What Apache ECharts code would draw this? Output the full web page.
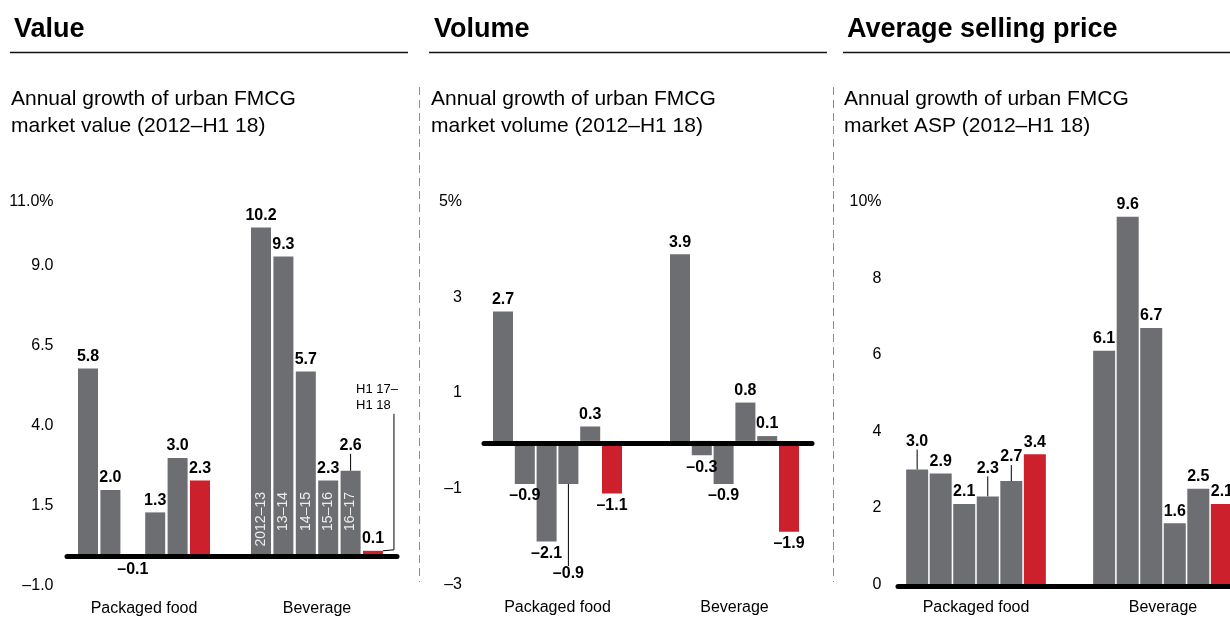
<!DOCTYPE html>
<html>
<head>
<meta charset="utf-8">
<title>Urban FMCG growth</title>
<script src="https://cdn.jsdelivr.net/npm/echarts@6/dist/echarts.min.js"></script>
<style>
  html, body { margin: 0; padding: 0; background: #fff; }
  #chart { width: 1230px; height: 618px; }
</style>
</head>
<body>
<div id="chart"></div>
<script>
const categories = ['Packaged food', 'Beverage'];
const periods = ['2012–13', '13–14', '14–15', '15–16', '16–17', 'H1 17–H1 18'];

// annual growth, % (one value per period)
const valueFood = [5.8, 2.0, -0.1, 1.3, 3.0, 2.3];
const valueBev = [10.2, 9.3, 5.7, 2.3, 2.6, 0.1];
const volumeFood = [2.7, -0.9, -2.1, -0.9, 0.3, -1.1];
const volumeBev = [3.9, -0.3, -0.9, 0.8, 0.1, -1.9];
const aspFood = [3.0, 2.9, 2.1, 2.3, 2.7, 3.4];
const aspBev = [6.1, 9.6, 6.7, 1.6, 2.5, 2.1];

// y axis tick labels
const valueTicks = [-1, 1.5, 4, 6.5, 9, 11];
const volumeTicks = [-3, -1, 1, 3, 5];
const aspTicks = [0, 2, 4, 6, 8, 10];

const FONT = '"Liberation Sans", Arial, Helvetica, sans-serif';
const GRAY = '#6d6e71';
const RED = '#cc202c';

function fmt(v, digits) {
  const s = Math.abs(v).toFixed(digits);
  return v < 0 ? '–' + s : s;
}

const myChart = echarts.init(document.getElementById('chart'));

const panels = [
  {
    title: 'Value', sub: 'Annual growth of urban FMCG\nmarket value (2012–H1 18)', x: 14,
    food: valueFood, bev: valueBev, ticks: valueTicks,
    tickLabel: v => v === 11 ? '11.0%' : fmt(v, 1),
    barGrid: { left: 57.5, width: 346, top: 202, height: 384 },
    lineGrid: { left: 67, width: 330 },
    labelMargin: 4, barWidth: 20, barGap: '12%',
    labelDy: { '4-1': -13 }, periodLabels: true
  },
  {
    title: 'Volume', sub: 'Annual growth of urban FMCG\nmarket volume (2012–H1 18)', x: 434,
    food: volumeFood, bev: volumeBev, ticks: volumeTicks,
    tickLabel: v => v === 5 ? '5%' : fmt(v, 0),
    barGrid: { left: 469, width: 354, top: 201.5, height: 383 },
    lineGrid: { left: 484, width: 328 },
    labelMargin: 7, barWidth: 20, barGap: '9%',
    labelDy: { '3-0': 78 }
  },
  {
    title: 'Average selling price', sub: 'Annual growth of urban FMCG\nmarket ASP (2012–H1 18)', x: 847,
    food: aspFood, bev: aspBev, ticks: aspTicks,
    tickLabel: v => v === 10 ? '10%' : String(v),
    barGrid: { left: 882.5, width: 374, top: 201.5, height: 383 },
    lineGrid: { left: 898, width: 342 },
    labelMargin: 1, barWidth: 22, barGap: '7%',
    labelDy: { '0-0': -16, '3-0': -16, '4-0': -12 }
  }
];

const grid = [], xAxis = [], yAxis = [], series = [], title = [];

panels.forEach(p => {
  const min = p.ticks[0], max = p.ticks[p.ticks.length - 1];

  title.push({
    text: p.title, left: p.x, top: 16, padding: 0,
    textStyle: { fontSize: 27, fontWeight: 'bold', color: '#000', fontFamily: FONT }
  });
  title.push({
    text: p.sub, left: p.x - 3, top: 86, padding: 0,
    textStyle: { fontSize: 21, fontWeight: 'normal', lineHeight: 27, color: '#000', fontFamily: FONT }
  });

  // grid with the bars (the ASP one runs past the right edge, as in the source)
  const gBar = grid.length;
  grid.push(Object.assign({ containLabel: false, outerBoundsMode: 'none' }, p.barGrid));
  const xBar = xAxis.length;
  xAxis.push({
    type: 'category', gridIndex: gBar, data: categories,
    axisLine: { show: false, onZero: false }, axisTick: { show: false },
    axisLabel: { margin: 15, fontSize: 16, color: '#000', fontFamily: FONT }
  });
  const yBar = yAxis.length;
  yAxis.push({
    type: 'value', gridIndex: gBar, min: min, max: max,
    splitLine: { show: false }, axisLine: { show: false },
    axisTick: { show: false },
    axisLabel: {
      customValues: p.ticks, margin: p.labelMargin, fontSize: 16, color: '#000',
      fontFamily: FONT, formatter: p.tickLabel
    }
  });

  // grid that only carries the thick zero line
  const gLine = grid.length;
  grid.push({
    left: p.lineGrid.left, width: p.lineGrid.width, top: p.barGrid.top + 2,
    height: p.barGrid.height, outerBoundsMode: 'none'
  });
  xAxis.push({
    type: 'value', gridIndex: gLine, min: 0, max: 1, z: 10,
    axisLine: { show: true, onZero: true, lineStyle: { color: '#000', width: 5 } },
    axisTick: { show: false }, axisLabel: { show: false }, splitLine: { show: false }
  });
  yAxis.push({ type: 'value', gridIndex: gLine, min: min, max: max, show: false });

  for (let i = 0; i < periods.length; i++) {
    const vals = [p.food[i], p.bev[i]];
    series.push({
      type: 'bar', name: periods[i], xAxisIndex: xBar, yAxisIndex: yBar,
      barWidth: p.barWidth, barGap: p.barGap, silent: true,
      itemStyle: { color: i === periods.length - 1 ? RED : GRAY },
      label: {
        show: true, distance: 4, fontSize: 16, fontWeight: 'bold', color: '#000',
        fontFamily: FONT, formatter: d => fmt(d.value, 1)
      },
      labelLine: { show: false, lineStyle: { color: '#000', width: 1 } },
      labelLayout: params => {
        const dy = p.labelDy[i + '-' + params.dataIndex];
        return dy ? { dy: dy } : null;
      },
      data: vals.map((v, j) => ({
        value: v,
        label: { position: v < 0 ? 'bottom' : 'top' },
        labelLine: { show: p.labelDy[i + '-' + j] != null }
      }))
    });
  }

  if (p.periodLabels) {
    // transparent copy of the bars carrying the period names
    const xOver = xAxis.length;
    xAxis.push({ type: 'category', gridIndex: gBar, data: categories, show: false });
    for (let i = 0; i < periods.length; i++) {
      const last = i === periods.length - 1;
      series.push({
        type: 'bar', name: periods[i] + ' label', xAxisIndex: xOver, yAxisIndex: yBar,
        barWidth: p.barWidth, barGap: p.barGap, silent: true, z: 3,
        itemStyle: { color: 'rgba(0,0,0,0)' },
        labelLine: { show: false, length2: 136, lineStyle: { color: '#000', width: 1 } },
        labelLayout: last ? (params => params.dataIndex === 1 ? {
          x: params.rect.x + params.rect.width - 27,
          y: params.rect.y - 137,
          align: 'left', verticalAlign: 'bottom'
        } : null) : null,
        data: [
          { value: p.food[i], label: { show: false } },
          last ? {
            value: p.bev[i],
            label: {
              show: true, formatter: 'H1 17–\nH1 18', fontSize: 13, lineHeight: 16,
              color: '#000', fontFamily: FONT, align: 'left', verticalAlign: 'bottom',
              padding: [0, 34, 0, 0], backgroundColor: 'rgba(255,255,255,0)'
            },
            labelLine: { show: true }
          } : {
            value: p.bev[i],
            label: {
              show: true, formatter: periods[i], position: 'insideBottom', rotate: 90,
              align: 'right', verticalAlign: 'middle', distance: 62,
              fontSize: 14, color: '#ececec', fontFamily: FONT
            }
          }
        ]
      });
    }
  }
});

const rule = (x1, x2) => ({
  type: 'line', shape: { x1: x1, y1: 52.5, x2: x2, y2: 52.5 },
  style: { stroke: '#111', lineWidth: 1.5 }, silent: true
});
const divider = x => ({
  type: 'line', shape: { x1: x, y1: 87, x2: x, y2: 582 },
  style: { stroke: '#8c8c8c', lineWidth: 1, lineDash: [8, 5] }, silent: true
});

myChart.setOption({
  animation: false,
  textStyle: { fontFamily: FONT },
  title: title,
  grid: grid,
  xAxis: xAxis,
  yAxis: yAxis,
  series: series,
  graphic: [rule(10, 408), rule(429, 827), rule(843, 1230), divider(419.5), divider(833.5)]
});
</script>
</body>
</html>
